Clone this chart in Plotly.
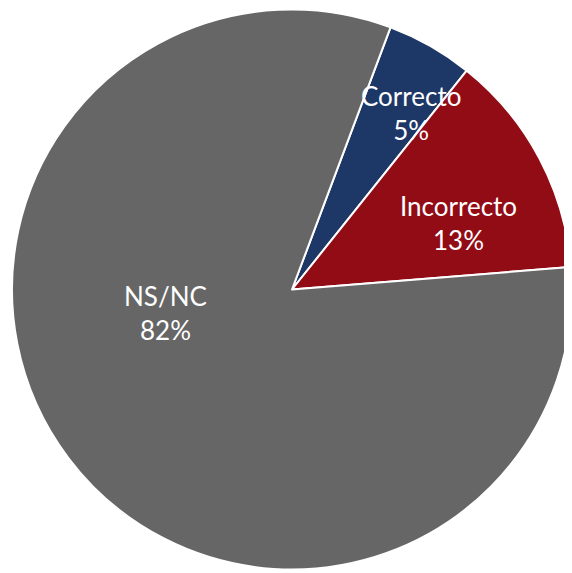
import math
import plotly.graph_objects as go

labels = ["Correcto", "Incorrecto", "NS/NC"]
values = [5, 13, 82]
colors = ["#1d3766", "#920c16", "#666666"]
label_radius = [0.76, 0.64, 0.46]     # fraction of pie radius for label placement
label_angle_shift = [4.5, 6.3, 26.3]  # degrees from slice mid-angle (Excel best-fit look)

rotation = 20.6

W, H = 572, 573
ml, mr, mt, mb = 4, 8, 1, 11

fig = go.Figure(go.Pie(
    labels=labels,
    values=values,
    sort=False,
    direction="clockwise",
    rotation=rotation,
    marker=dict(colors=colors, line=dict(color="white", width=2)),
    textinfo="none",
    hoverinfo="label+percent",
    showlegend=False,
))

# label annotations placed from the data (mid-angle of each slice)
pw, ph = W - ml - mr, H - mt - mb
r_px = min(pw, ph) / 2
cx, cy = pw / 2, ph / 2
total = sum(values)
cum = 0
annotations = []
for lab, v, lr, sh in zip(labels, values, label_radius, label_angle_shift):
    mid = rotation + (cum + v / 2) / total * 360 + sh
    cum += v
    a = math.radians(mid)
    x = cx + lr * r_px * math.sin(a)
    y = cy + lr * r_px * math.cos(a)
    annotations.append(dict(
        x=x / pw, y=y / ph, xref="paper", yref="paper",
        xanchor="center", yanchor="middle",
        text=f"{lab}<br>{round(v / total * 100)}%",
        showarrow=False, align="center",
        font=dict(family="Lato, Open Sans, sans-serif", size=26, color="white"),
    ))

fig.update_layout(
    width=W, height=H,
    margin=dict(l=ml, r=mr, t=mt, b=mb),
    paper_bgcolor="white",
    plot_bgcolor="white",
    annotations=annotations,
)

fig.write_html("out.html")
